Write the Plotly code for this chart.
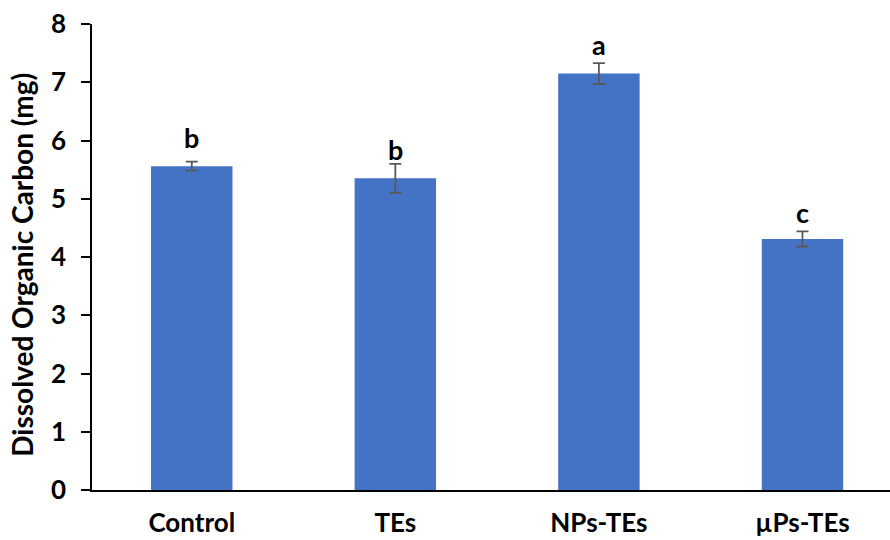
import plotly.graph_objects as go

categories = ["Control", "TEs", "NPs-TEs", "µPs-TEs"]
doc_values = [5.56, 5.35, 7.15, 4.31]
doc_errors = [0.077, 0.25, 0.18, 0.13]
letters = ["b", "b", "a", "c"]
letter_y = [6.06, 5.84, 7.64, 4.77]
y_ticks = [0, 1, 2, 3, 4, 5, 6, 7, 8]

FONT = "Lato"

fig = go.Figure()
fig.add_trace(go.Bar(
    x=list(range(len(categories))),
    y=doc_values,
    width=0.40,
    marker=dict(color="#4472C4", line=dict(width=0)),
    error_y=dict(type="data", array=doc_errors, visible=True,
                 color="#595959", thickness=1.8, width=6),
))

for i, (lab, ly) in enumerate(zip(letters, letter_y)):
    fig.add_annotation(x=i, y=ly, text=f"<b>{lab}</b>", showarrow=False,
                       xanchor="center", yanchor="middle",
                       font=dict(family=FONT, size=27, color="black"))

# y-axis title as rotated annotation
fig.add_annotation(xref="paper", yref="paper", x=-0.088, y=0.483,
                   text="<b>Dissolved Organic Carbon (mg)</b>", textangle=-90,
                   showarrow=False, xanchor="center", yanchor="middle",
                   font=dict(family=FONT, size=28, color="black"))

fig.update_layout(
    width=890, height=540,
    margin=dict(l=92, r=0, t=24, b=50, autoexpand=False),
    paper_bgcolor="white", plot_bgcolor="white",
    showlegend=False,
    font=dict(family=FONT, color="black"),
    bargap=0.6,
)
fig.update_xaxes(
    range=[-0.49, 3.43],
    tickmode="array", tickvals=list(range(len(categories))),
    ticktext=[f"<b>{c}</b>" for c in categories],
    tickfont=dict(family=FONT, size=26, color="black"),
    showline=True, linecolor="black", linewidth=1.5,
    ticks="", ticklabelstandoff=9,
    showgrid=False, zeroline=False, automargin=False,
)
fig.update_yaxes(
    range=[0, 8],
    tickmode="array", tickvals=y_ticks,
    ticktext=[f"<b>{t}</b>" for t in y_ticks],
    tickfont=dict(family=FONT, size=26, color="black"),
    showline=True, linecolor="black", linewidth=1.5,
    ticks="outside", ticklen=9, tickwidth=1.5, tickcolor="black",
    ticklabelstandoff=10,
    showgrid=False, zeroline=False, automargin=False,
)

fig.write_html("out.html", config={"displayModeBar": False},
               post_script="document.body.style.margin='0';document.body.style.overflow='hidden';")
